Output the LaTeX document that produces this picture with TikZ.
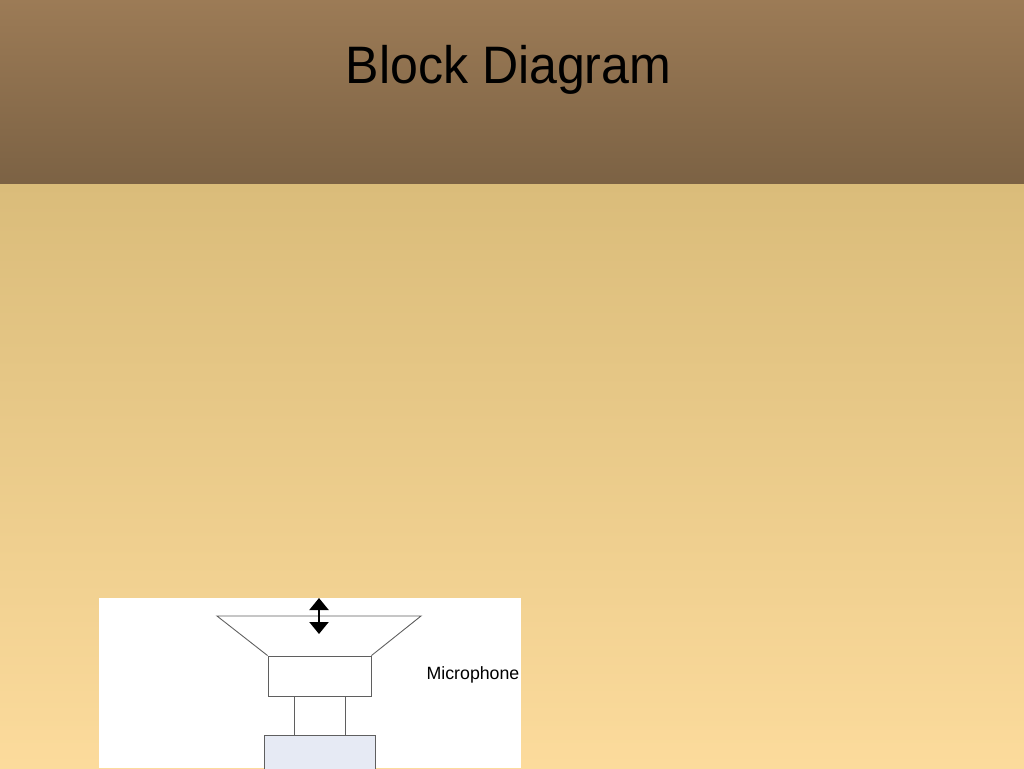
\documentclass[tikz,border=0pt]{standalone}
\usepackage{fontspec}
\setmainfont{Liberation Sans}
\usetikzlibrary{arrows.meta,positioning}
\definecolor{headtop}{RGB}{156,123,86}
\definecolor{headbot}{RGB}{124,98,68}
\definecolor{pagetop}{RGB}{218,188,122}
\definecolor{pagebot}{RGB}{252,219,156}
\definecolor{partline}{RGB}{95,95,95}
\definecolor{blockfill}{RGB}{230,234,244}

\begin{document}
\begin{tikzpicture}[x=0.02cm,y=-0.02cm,
      every node/.style={inner sep=0pt},
      part/.style={draw=partline,line width=0.5pt},
      box/.style={part,rectangle,fill=white}]
    \useasboundingbox (0,0) rectangle (1024,768);
    \shade[top color=pagetop,bottom color=pagebot] (0,183) rectangle (1024,768);
    \shade[top color=headtop,bottom color=headbot] (0,0) rectangle (1024,183);
    \node[anchor=base,xscale=0.95] (title) at (508.5,83) {\fontsize{30}{36}\selectfont Block Diagram};

    \fill[white] (99,598) rectangle (521,768);
    \begin{scope}
    \clip (99,598) rectangle (521,768);
    % horn
    \coordinate (hornTL) at (217,616);
    \coordinate (hornTR) at (421,616);
    \node[box,minimum width=2.06cm,minimum height=0.8cm] (body) at (319.5,676) {};
    \draw[part] (body.north west) -- (hornTL) -- (hornTR) -- (body.north east);
    \node[box,fill=blockfill,minimum width=2.22cm,minimum height=1.6cm] (block) at (319.5,775) {};
    \draw[part] ([xshift=-0.5cm]body.south) -- ([xshift=-0.5cm]body.south |- block.north);
    \draw[part] ([xshift=0.52cm]body.south) -- ([xshift=0.52cm]body.south |- block.north);
    % motion
    \coordinate (moveA) at (319,598);
    \coordinate (moveB) at (319,634);
    \draw[line width=1.2pt,{Triangle[width=0.38cm,length=0.24cm]}-{Triangle[width=0.38cm,length=0.24cm]}] (moveA) -- (moveB);
    \node (mic) at (473,675) {\fontsize{10.1}{12}\selectfont Microphone};
    \end{scope}
  \end{tikzpicture}
\end{document}
